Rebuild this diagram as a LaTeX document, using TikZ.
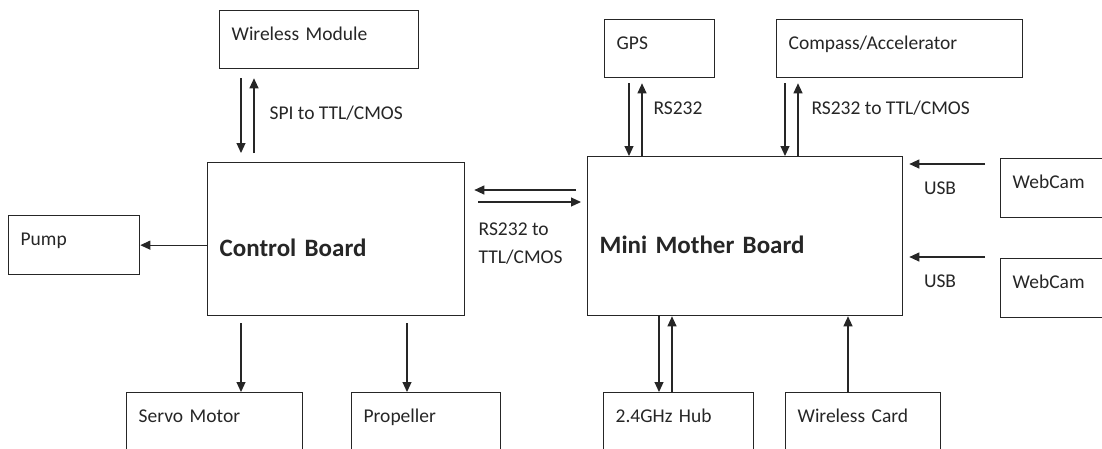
\documentclass[tikz,border=0pt]{standalone}
\usepackage{fontspec}
\setmainfont{Carlito}
\usetikzlibrary{arrows.meta,positioning}

\begin{document}
\begin{tikzpicture}[x=1pt,y=-1pt,every node/.style={font=\fontsize{19.5}{28}\selectfont,text=black!85}]
\tikzset{
  blk/.style={draw=black!85,line width=1.3pt,anchor=north west,inner xsep=12pt,inner ysep=0pt,align=left,text height=30pt},
  bigblk/.style={blk,font=\fontsize{25}{30}\selectfont\bfseries},
  arr/.style={-{Triangle[length=10pt,width=9pt]},line width=1.1pt,draw=black!85},
  lbl/.style={inner sep=0pt}
}
\fill[white] (0,0) rectangle (1102,448);
\useasboundingbox (0,0) rectangle (1102,448);
\clip (0,0) rectangle (1102,448);
% boxes
\node[blk,text width=175pt,text depth=28pt] (wmod) at (219,10) {Wireless Module};
\node[bigblk,text width=233pt,text height=94pt,text depth=59pt] (ctrl) at (207,162) {Control Board};
\node[blk,text width=107pt,text depth=29pt] (pump) at (8,215) {Pump};
\node[blk,text width=152pt,text depth=40pt] (servo) at (126,392) {Servo Motor};
\node[blk,text width=125pt,text depth=40pt] (prop) at (351,392) {Propeller};
\node[bigblk,text width=291pt,text height=97pt,text depth=62pt] (mmb) at (587,156) {Mini Mother Board};
\node[blk,text width=86pt,text depth=28pt] (gps) at (604,19) {GPS};
\node[blk,text width=222pt,text depth=28pt] (comp) at (776,19) {Compass/Accelerator};
\node[blk,text width=96pt,text depth=29pt] (cam1) at (1000,158) {WebCam};
\node[blk,text width=96pt,text depth=29pt] (cam2) at (1000,258) {WebCam};
\node[blk,text width=126pt,text depth=40pt] (hub) at (603,392) {2.4GHz Hub};
\node[blk,text width=131pt,text depth=40pt] (card) at (785,392) {Wireless Card};
% line positions
\coordinate (wd) at ([xshift=22pt]wmod.south west);
\coordinate (wu) at ([xshift=35pt]wmod.south west);
\coordinate (sv) at ([xshift=34pt]ctrl.south west);
\coordinate (pr) at ([xshift=200pt]ctrl.south west);
\coordinate (rsl) at ([yshift=-28pt]ctrl.north east);
\coordinate (rsr) at ([yshift=-40pt]ctrl.north east);
\coordinate (gd) at ([xshift=25pt]gps.south west);
\coordinate (gu) at ([xshift=38pt]gps.south west);
\coordinate (cd) at ([xshift=9pt]comp.south west);
\coordinate (cu) at ([xshift=22pt]comp.south west);
\coordinate (u1) at ([yshift=-8pt]mmb.north east);
\coordinate (u2) at ([yshift=-101pt]mmb.north east);
\coordinate (hd) at ([xshift=72pt]mmb.south west);
\coordinate (hu) at ([xshift=85pt]mmb.south west);
\coordinate (cw) at ([xshift=261pt]mmb.south west);
% control board links
\draw[arr,shorten <=9pt,shorten >=9pt] (wd) -- (wd |- ctrl.north);
\draw[arr,shorten <=9pt,shorten >=9pt] (wu |- ctrl.north) -- node[lbl,right=15pt,pos=0.53]{SPI to TTL/CMOS} (wu);
\draw[arr] (ctrl.west |- pump.east) -- (pump.east);
\draw[arr,shorten <=7pt] (sv) -- (sv |- servo.north);
\draw[arr,shorten <=7pt] (pr) -- (pr |- prop.north);
\draw[arr,shorten <=11pt,shorten >=9pt] (rsl -| mmb.west) -- (rsl);
\draw[arr,shorten <=13pt,shorten >=6pt] (rsr) -- node[lbl,below=20pt,pos=0.455,align=left]{RS232 to\\TTL/CMOS} (rsr -| mmb.west);
% mother board links
\draw[arr,shorten <=5pt] (gd) -- (gd |- mmb.north);
\draw[arr,shorten >=5pt] (gu |- mmb.north) -- node[lbl,right=11pt,pos=0.61]{RS232} (gu);
\draw[arr,shorten <=5pt] (cd) -- (cd |- mmb.north);
\draw[arr,shorten >=5pt] (cu |- mmb.north) -- node[lbl,right=13pt,pos=0.61]{RS232 to TTL/CMOS} (cu);
\draw[arr,shorten <=15pt,shorten >=6pt] (u1 -| cam1.west) -- node[lbl,below=17pt,pos=0.62]{USB} (u1);
\draw[arr,shorten <=15pt,shorten >=6pt] (u2 -| cam2.west) -- node[lbl,below=17pt,pos=0.62]{USB} (u2);
\draw[arr] (hd) -- (hd |- hub.north);
\draw[arr] (hu |- hub.north) -- (hu);
\draw[arr] (cw |- card.north) -- (cw);
\end{tikzpicture}
\end{document}
